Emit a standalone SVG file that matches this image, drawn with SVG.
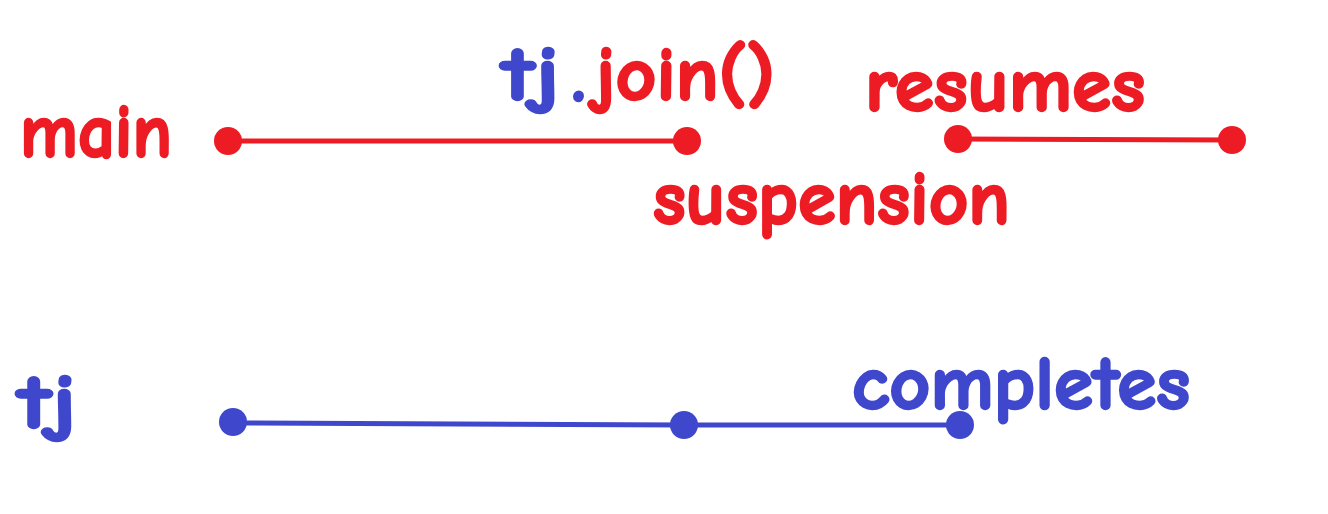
<svg xmlns="http://www.w3.org/2000/svg" width="1328" height="514" viewBox="0 0 1328 514">
<style>
.t{font-family:"Comic Sans MS","Comic Neue","Open Sans",sans-serif;font-weight:bold;font-size:76px;stroke-width:2.5;stroke-linejoin:round}
.r{fill:#ED1C24}.b{fill:#3F48CC}
text.r{stroke:#ED1C24}text.b{stroke:#3F48CC}
.lr{stroke:#ED1C24;stroke-width:5;fill:none}
.lb{stroke:#3F48CC;stroke-width:5;fill:none}
</style>
<rect width="1328" height="514" fill="#FFFFFF"/>
<g id="connectors">
<line class="lr" x1="228" y1="141" x2="687" y2="141"/>
<line class="lr" x1="958" y1="139" x2="1232" y2="140"/>
<line class="lb" x1="233" y1="423" x2="684" y2="425"/>
<line class="lb" x1="684" y1="425" x2="960" y2="425"/>
</g>
<g id="label-main"><text class="t r" x="20" y="157" textLength="152" lengthAdjust="spacingAndGlyphs">main</text></g>
<g id="label-join">
<text class="t b" x="502" y="100" textLength="58" lengthAdjust="spacingAndGlyphs">tj</text>
<text class="t b" x="572" y="101">.</text>
<text class="t r" x="595" y="100" textLength="180" lengthAdjust="spacingAndGlyphs">join()</text>
</g>
<g id="label-resumes"><text class="t r" x="865" y="111" textLength="280" lengthAdjust="spacingAndGlyphs">resumes</text></g>
<g id="label-suspension"><text class="t r" x="653" y="224" textLength="357" lengthAdjust="spacingAndGlyphs">suspension</text></g>
<g id="label-tj"><text class="t b" x="18" y="428" textLength="59" lengthAdjust="spacingAndGlyphs">tj</text></g>
<g id="label-completes"><text class="t b" x="852" y="409" textLength="338" lengthAdjust="spacingAndGlyphs">completes</text></g>
<g id="main-start"><circle class="r" cx="228" cy="141" r="14"/></g>
<g id="main-suspend"><circle class="r" cx="687" cy="141" r="14"/></g>
<g id="main-resume"><circle class="r" cx="958" cy="139" r="14"/></g>
<g id="main-end"><circle class="r" cx="1232" cy="140" r="14"/></g>
<g id="tj-start"><circle class="b" cx="233" cy="422" r="14"/></g>
<g id="tj-join"><circle class="b" cx="684" cy="425" r="14"/></g>
<g id="tj-end"><circle class="b" cx="960" cy="425" r="14"/></g>
</svg>
